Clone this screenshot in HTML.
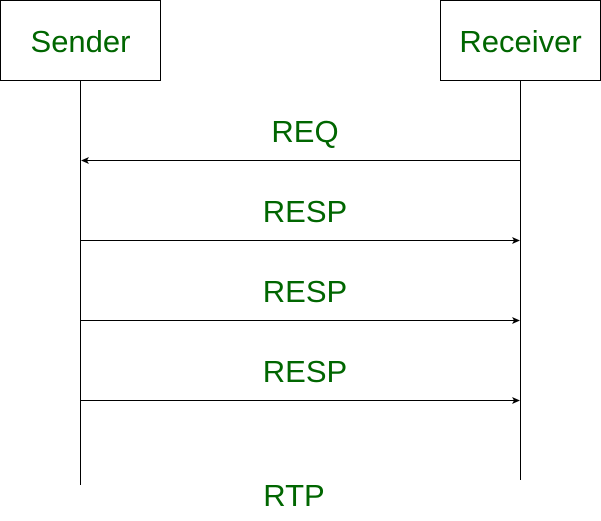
<!DOCTYPE html>
<html><head><style>body{margin:0;background:#fff}</style></head><body>
<svg width="601" height="521" xmlns="http://www.w3.org/2000/svg" style="display:block">
<rect x="0.5" y="0.5" width="160" height="80" fill="#fff" stroke="#000"/>
<rect x="440.5" y="0.5" width="160" height="80" fill="#fff" stroke="#000"/>
<g font-family="Liberation Sans, sans-serif" font-size="31" fill="#006600" text-anchor="middle">
<text x="80.5" y="52">Sender</text>
<text x="520.5" y="52">Receiver</text>
<text x="305" y="142">REQ</text>
<text x="305" y="222">RESP</text>
<text x="305" y="302">RESP</text>
<text x="305" y="382">RESP</text>
<text x="294" y="506">RTP</text>
</g>
<g stroke="#000" stroke-width="1">
<line x1="80.5" y1="81" x2="80.5" y2="485"/>
<line x1="520.5" y1="81" x2="520.5" y2="480"/>
<line x1="84" y1="160.5" x2="520" y2="160.5"/>
<line x1="80" y1="240.5" x2="516" y2="240.5"/>
<line x1="80" y1="320.5" x2="516" y2="320.5"/>
<line x1="80" y1="400.5" x2="516" y2="400.5"/>
</g>
<g fill="#000">
<polygon points="81,160.5 89,157 87,160.5 89,164"/>
<polygon points="520,240.5 512,237 514,240.5 512,244"/>
<polygon points="520,320.5 512,317 514,320.5 512,324"/>
<polygon points="520,400.5 512,397 514,400.5 512,404"/>
</g>
</svg>
</body></html>
